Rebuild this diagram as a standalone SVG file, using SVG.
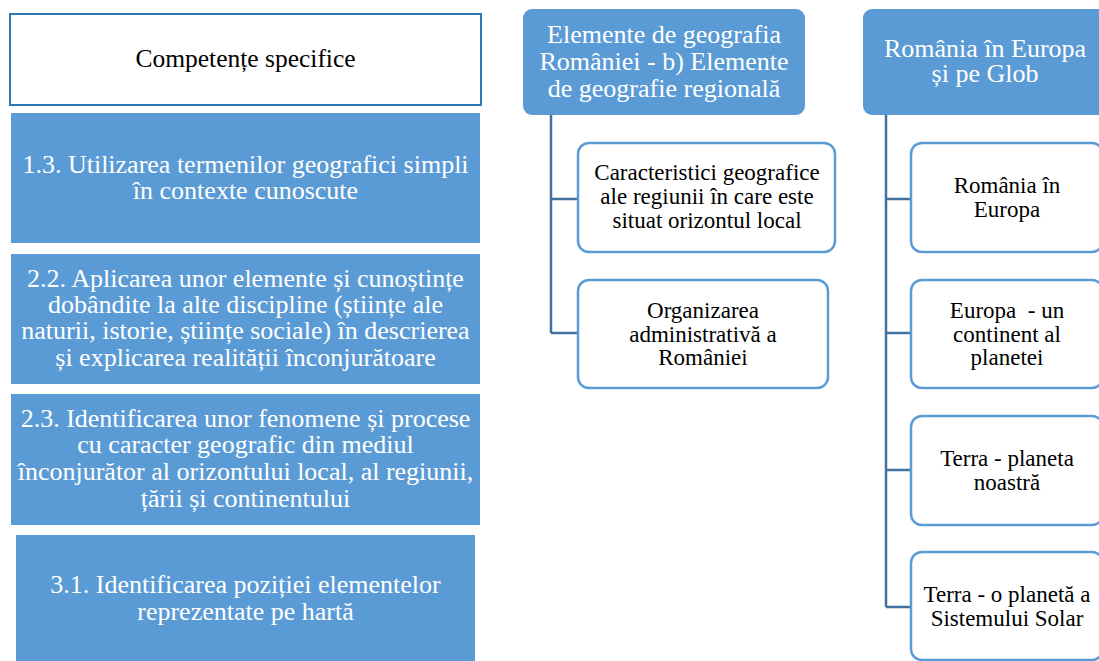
<svg xmlns="http://www.w3.org/2000/svg" width="1099" height="661" viewBox="0 0 1099 661">
<style>
.blue{fill:#5b9bd5;}
.child{fill:#ffffff;stroke:#5b9bd5;stroke-width:2.5;}
.conn{fill:none;stroke:#41719c;stroke-width:2.5;}
.tw{font-family:"Liberation Serif","Times New Roman",serif;font-size:26px;fill:#ffffff;text-anchor:middle;}
.tb{font-family:"Liberation Serif","Times New Roman",serif;font-size:23px;fill:#000000;text-anchor:middle;}
</style>
<rect width="1099" height="661" fill="#ffffff"/>
<g id="connectors">
<path class="conn" d="M551,115 V333 M551,199 H578 M551,333 H578"/>
<path class="conn" d="M886,115 V607 M886,199 H911 M886,333 H911 M886,470 H911 M886,607 H911"/>
</g>
<g id="competente">
<rect x="10" y="14" width="471" height="91" fill="#ffffff" stroke="#2e75b6" stroke-width="2"/>
<text class="tb" x="245.5" y="67" style="font-size:25.5px">Competențe specifice</text>
</g>
<g id="c13">
<rect class="blue" x="11" y="113" width="469" height="130"/>
<text class="tw" x="245.5" y="173">1.3. Utilizarea termenilor geografici simpli</text>
<text class="tw" x="245.5" y="199">în contexte cunoscute</text>
</g>
<g id="c22">
<rect class="blue" x="11" y="254" width="469" height="130"/>
<text class="tw" x="245.5" y="287">2.2. Aplicarea unor elemente și cunoștințe</text>
<text class="tw" x="245.5" y="313">dobândite la alte discipline (științe ale</text>
<text class="tw" x="245.5" y="339">naturii, istorie, științe sociale) în descrierea</text>
<text class="tw" x="245.5" y="366">și explicarea realității înconjurătoare</text>
</g>
<g id="c23">
<rect class="blue" x="11" y="394" width="469" height="131"/>
<text class="tw" x="245.5" y="427">2.3. Identificarea unor fenomene și procese</text>
<text class="tw" x="245.5" y="453">cu caracter geografic din mediul</text>
<text class="tw" x="245.5" y="480">înconjurător al orizontului local, al regiunii,</text>
<text class="tw" x="245.5" y="507">țării și continentului</text>
</g>
<g id="c31">
<rect class="blue" x="16" y="535" width="459" height="130"/>
<text class="tw" x="245.5" y="593">3.1. Identificarea poziției elementelor</text>
<text class="tw" x="245.5" y="620">reprezentate pe hartă</text>
</g>
<g id="h-regionala">
<rect class="blue" x="523" y="9" width="282" height="106" rx="9"/>
<text class="tw" x="664" y="43">Elemente de geografia</text>
<text class="tw" x="664" y="70">României - b) Elemente</text>
<text class="tw" x="664" y="97">de geografie regională</text>
</g>
<g id="n-caracteristici">
<rect class="child" x="578" y="143" width="257" height="109" rx="11"/>
<text class="tb" x="707" y="180">Caracteristici geografice</text>
<text class="tb" x="707" y="204">ale regiunii în care este</text>
<text class="tb" x="707" y="228">situat orizontul local</text>
</g>
<g id="n-organizarea">
<rect class="child" x="578" y="280" width="250" height="108" rx="11"/>
<text class="tb" x="703" y="318">Organizarea</text>
<text class="tb" x="703" y="342">administrativă a</text>
<text class="tb" x="703" y="365">României</text>
</g>
<g id="h-europa">
<rect class="blue" x="863" y="9" width="244" height="106" rx="9"/>
<text class="tw" x="985" y="57">România în Europa</text>
<text class="tw" x="985" y="82">și pe Glob</text>
</g>
<g id="n-romania">
<rect class="child" x="911" y="143" width="192" height="109" rx="11"/>
<text class="tb" x="1007" y="193">România în</text>
<text class="tb" x="1007" y="217">Europa</text>
</g>
<g id="n-continent">
<rect class="child" x="911" y="280" width="192" height="108" rx="11"/>
<text class="tb" x="1007" y="318">Europa &#160;- un</text>
<text class="tb" x="1007" y="342">continent al</text>
<text class="tb" x="1007" y="365">planetei</text>
</g>
<g id="n-terra">
<rect class="child" x="911" y="416" width="192" height="109" rx="11"/>
<text class="tb" x="1007" y="466">Terra - planeta</text>
<text class="tb" x="1007" y="490">noastră</text>
</g>
<g id="n-solar">
<rect class="child" x="911" y="552" width="192" height="108" rx="11"/>
<text class="tb" x="1007" y="602">Terra - o planetă a</text>
<text class="tb" x="1007" y="626">Sistemului Solar</text>
</g>
</svg>
